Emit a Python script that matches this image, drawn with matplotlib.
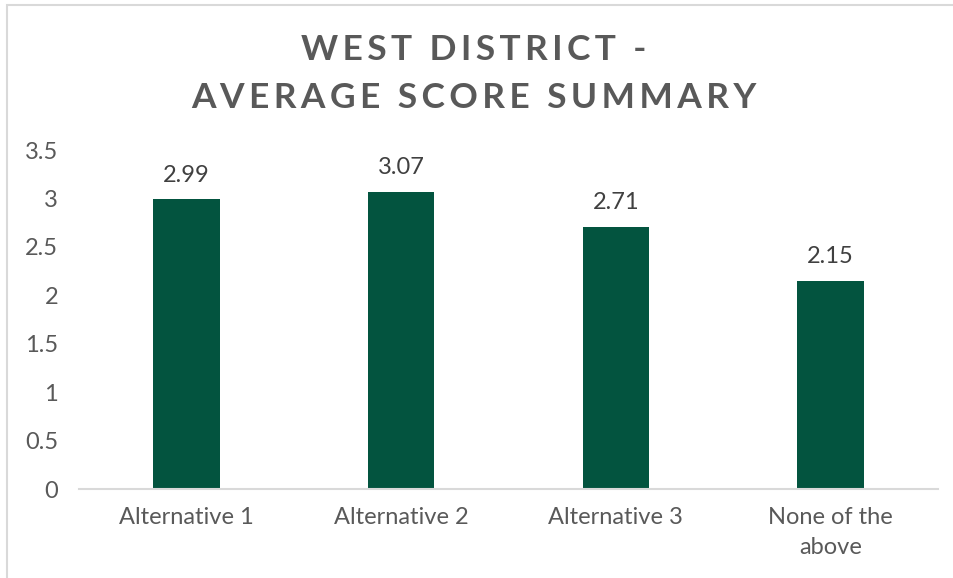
import matplotlib
matplotlib.use("Agg")
import matplotlib.pyplot as plt
from matplotlib.patches import Rectangle

categories = ["Alternative 1", "Alternative 2", "Alternative 3", "None of the\nabove"]
scores = [2.99, 3.07, 2.71, 2.15]
yticks = [0, 0.5, 1, 1.5, 2, 2.5, 3, 3.5]
ytick_labels = ["0", "0.5", "1", "1.5", "2", "2.5", "3", "3.5"]
title_lines = ["WEST DISTRICT -", "AVERAGE SCORE SUMMARY"]

bar_color = "#03543F"
text_color = "#595959"
label_color = "#404040"
fam = ["Lato", "DejaVu Sans"]
lbl_size = 17

W, H = 954, 578
fig = plt.figure(figsize=(W / 100, H / 100), dpi=100)
fig.patch.set_facecolor("white")

# outer chart frame (left and top edges visible)
fig.patches.append(Rectangle((7 / W, -0.1), 1.2, 1 - 5 / H + 0.1,
                             transform=fig.transFigure, fill=False,
                             edgecolor="#D9D9D9", linewidth=1.5))

ax = fig.add_axes([79 / W, 1 - 489 / H, (938 - 79) / W, (489 - 150) / H])
x = list(range(len(categories)))
ax.bar(x, scores, width=0.31, color=bar_color, zorder=2)
ax.set_xlim(-0.5, len(categories) - 0.5)
ax.set_ylim(0, 3.5)
ax.set_yticks(yticks)
ax.set_yticklabels(ytick_labels)
ax.set_xticks(x)
ax.set_xticklabels(categories, linespacing=1.55)
for s in ["top", "right", "left"]:
    ax.spines[s].set_visible(False)
ax.spines["bottom"].set_color("#D9D9D9")
ax.spines["bottom"].set_linewidth(1.5)
ax.tick_params(axis="both", length=0, colors=text_color, labelsize=lbl_size)
ax.tick_params(axis="y", pad=15)
ax.tick_params(axis="x", pad=13)
for lab in ax.get_xticklabels() + ax.get_yticklabels():
    lab.set_family(fam)

for xi, v in zip(x, scores):
    ax.annotate(f"{v:.2f}", (xi, v), xytext=(0, 12.5), textcoords="offset points",
                ha="center", va="baseline", fontsize=lbl_size, color=label_color,
                family=fam)

def spaced(s):
    return "\u2009".join(s)

fig.text(0.497, 1 - 50 / H, spaced(title_lines[0]), ha="center", va="center",
         fontsize=25.5, fontweight="bold", color=text_color, family=fam)
fig.text(0.497, 1 - 98 / H, spaced(title_lines[1]), ha="center", va="center",
         fontsize=25.5, fontweight="bold", color=text_color, family=fam)

fig.savefig("out.png", dpi=100, facecolor="white")
